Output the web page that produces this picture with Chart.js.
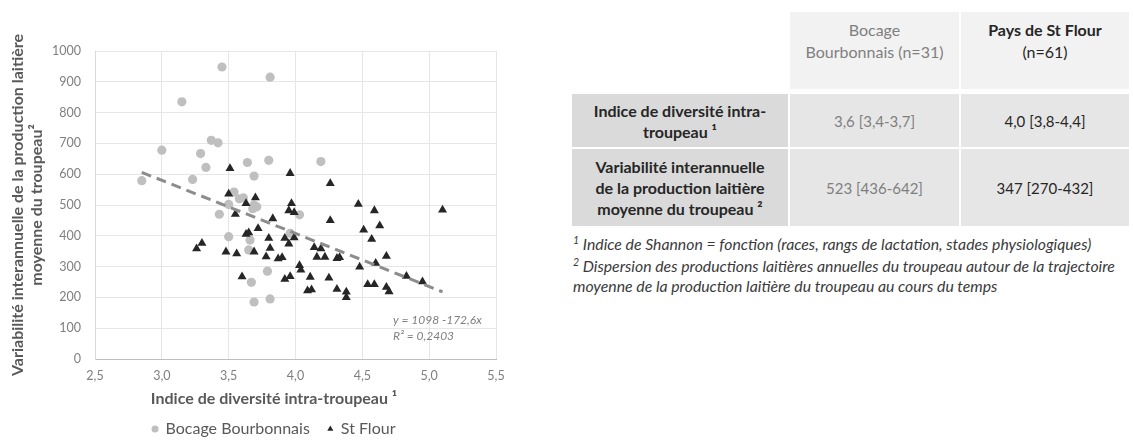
<!DOCTYPE html>
<html lang="fr">
<head>
<meta charset="utf-8">
<title>Diversité intra-troupeau et variabilité laitière</title>
<script src="https://cdn.jsdelivr.net/npm/chart.js@4.4.1/dist/chart.umd.min.js"></script>
<style>
  html, body { margin: 0; padding: 0; background: #fff; }
  body { width: 1133px; height: 441px; position: relative; overflow: hidden; font-family: Lato, "Open Sans", sans-serif; }
  #zoneGraphique { position: absolute; left: 0; top: 0; width: 548px; height: 441px; }
  #tableau { position: absolute; left: 570px; top: 10px; border-collapse: separate; border-spacing: 2px; color: #262626; }
  #tableau td, #tableau th { text-align: center; padding: 0; background-clip: padding-box; }
  #tableau th { font-size: 16px; font-weight: bold; line-height: 21px; background: #dadada; width: 216px; }
  #tableau td { font-size: 15px; line-height: 22px; background: #e6e6e6; }
  #tableau tr.entete td { vertical-align: top; padding-top: 7px; box-sizing: border-box; background: #f2f2f2; border-bottom: 3px solid #fff; height: 80px; font-size: 16px; }
  #tableau tr.entete td.vide { background: #fff; }
  #tableau .bocage { color: #7f7f7f; width: 169px; }
  #tableau .flour { color: #262626; width: 168px; }
  #tableau tr.ligne2 th, #tableau tr.ligne2 td { height: 53px; }
  #tableau tr.ligne3 th, #tableau tr.ligne3 td { height: 77px; }
  #notes { position: absolute; left: 573px; top: 231px; font-size: 15.8px; font-style: italic; line-height: 19px; color: #3a3a3a; white-space: nowrap; }
  #notes sup { font-size: 10.5px; }
</style>
</head>
<body>
<div id="zoneGraphique"><canvas id="graphiqueDispersion"></canvas></div>

<table id="tableau">
  <tr class="entete">
    <td class="vide"></td>
    <td class="bocage">Bocage<br>Bourbonnais (n=31)</td>
    <td class="flour"><b>Pays de St Flour</b><br>(n=61)</td>
  </tr>
  <tr class="ligne2">
    <th>Indice de diversité intra-<br>troupeau ¹</th>
    <td class="bocage">3,6 [3,4-3,7]</td>
    <td class="flour">4,0 [3,8-4,4]</td>
  </tr>
  <tr class="ligne3">
    <th>Variabilité interannuelle<br>de la production laitière<br>moyenne du troupeau ²</th>
    <td class="bocage">523 [436-642]</td>
    <td class="flour">347 [270-432]</td>
  </tr>
</table>

<div id="notes">
  <sup>1</sup> Indice de Shannon = fonction (races, rangs de lactation, stades physiologiques)<br>
  <sup>2</sup>&nbsp;Dispersion des productions laitières annuelles du troupeau autour de la trajectoire<br>
  moyenne de la production laitière du troupeau au cours du temps
</div>

<script>
// Données
const bocageIndice = [2.85, 3.00, 3.15, 3.45, 3.81, 3.29, 3.37, 3.42, 3.33, 3.23, 3.64, 3.80, 3.69, 3.54, 3.50, 3.61,
    3.69, 3.71, 3.68, 3.43, 3.50, 3.66, 3.65, 3.79, 3.67, 3.69, 3.81, 4.19, 4.03, 3.96, 3.58];
const bocageVariabilite = [579, 678, 835, 948, 915, 667, 710, 702, 622, 583, 638, 645, 594, 542, 502, 523,
    500, 494, 488, 470, 397, 386, 354, 285, 249, 185, 195, 641, 468, 408, 520];

const stFlourIndice = [3.26, 3.30, 3.48, 3.56, 3.51, 3.50, 3.55, 3.63, 3.70, 3.63, 3.65, 3.72, 3.60, 3.69, 3.78, 3.80,
    3.81, 3.83, 3.87, 3.90, 3.92, 3.95, 3.99, 3.92, 3.96, 3.96, 3.97, 3.95, 3.99, 4.03, 4.04, 4.11,
    4.09, 4.12, 4.14, 4.19, 4.16, 4.22, 4.25, 4.26, 4.26, 4.31, 4.33, 4.31, 4.38, 4.38, 4.47, 4.59,
    5.10, 4.63, 4.51, 4.57, 4.68, 4.48, 4.60, 4.83, 4.95, 4.54, 4.59, 4.68, 4.70];
const stFlourVariabilite = [358, 376, 348, 342, 619, 536, 470, 505, 524, 405, 410, 424, 267, 348, 332, 392,
    360, 456, 326, 330, 392, 374, 394, 259, 268, 603, 505, 482, 476, 304, 289, 266,
    222, 225, 362, 358, 331, 331, 263, 570, 450, 327, 330, 227, 218, 200, 503, 482,
    484, 433, 419, 389, 334, 299, 311, 269, 251, 242, 242, 233, 219];

// Courbe de tendance (extrémités)
const tendanceIndice = [2.85, 5.10];
const tendanceVariabilite = [606, 218];
const equationTendance = ['y = 1098 -172,6x', 'R² = 0,2403'];

const graduationsX = ['2,5', '3,0', '3,5', '4,0', '4,5', '5,0', '5,5'];
const graduationsY = ['0', '100', '200', '300', '400', '500', '600', '700', '800', '900', '1000'];

function versPoints(xs, ys) {
    return xs.map((x, i) => ({ x: x, y: ys[i] }));
}

// Texte de l'équation de la tendance
const etiquetteTendance = {
    id: 'etiquetteTendance',
    afterDatasetsDraw(chart) {
        const { ctx, chartArea } = chart;
        ctx.save();
        ctx.font = 'italic 12px Lato';
        ctx.fillStyle = '#7f7f7f';
        ctx.textBaseline = 'middle';
        ctx.fillText(equationTendance[0], chartArea.left + 298, chartArea.bottom - 39);
        ctx.fillText(equationTendance[1], chartArea.left + 298, chartArea.bottom - 23);
        ctx.restore();
    }
};

Chart.defaults.font.family = 'Lato';

const ctx = document.getElementById('graphiqueDispersion').getContext('2d');
new Chart(ctx, {
    type: 'scatter',
    data: {
        datasets: [
            {
                label: 'Bocage Bourbonnais',
                data: versPoints(bocageIndice, bocageVariabilite),
                pointStyle: 'circle',
                pointRadius: 4.6,
                backgroundColor: '#bfbfbf',
                borderColor: '#bfbfbf',
                borderWidth: 0,
                order: 2
            },
            {
                label: 'St Flour',
                data: versPoints(stFlourIndice, stFlourVariabilite),
                pointStyle: 'triangle',
                pointRadius: 5.2,
                backgroundColor: '#262626',
                borderColor: '#262626',
                borderWidth: 0,
                order: 1
            },
            {
                type: 'line',
                label: 'Tendance',
                data: versPoints(tendanceIndice, tendanceVariabilite),
                borderColor: '#8c8c8c',
                borderWidth: 3,
                borderDash: [10, 6],
                pointRadius: 0,
                fill: false,
                order: 0
            }
        ]
    },
    options: {
        responsive: true,
        maintainAspectRatio: false,
        animation: false,
        layout: {
            padding: { top: 51, left: 0, right: 0, bottom: -6 }
        },
        plugins: {
            tooltip: { enabled: false },
            title: {
                display: true,
                position: 'bottom',
                weight: 500,
                text: 'Indice de diversité intra-troupeau ¹',
                color: '#595959',
                font: { size: 16, weight: 'bold', lineHeight: 1.2 },
                padding: { top: 7.4, bottom: 2.4 }
            },
            legend: {
                position: 'bottom',
                labels: {
                    usePointStyle: true,
                    boxWidth: 5,
                    boxHeight: 5,
                    padding: 10,
                    color: '#595959',
                    font: { size: 16 },
                    generateLabels(chart) {
                        const items = Chart.defaults.plugins.legend.labels.generateLabels(chart);
                        return items
                            .filter(item => item.datasetIndex !== 2)
                            .sort((a, b) => a.datasetIndex - b.datasetIndex)
                            .map(item => item.datasetIndex === 0 ? { ...item, text: item.text + '\u2002' } : item);
                    }
                }
            }
        },
        scales: {
            x: {
                type: 'linear',
                min: 2.5,
                max: 5.5,
                ticks: {
                    stepSize: 0.5,
                    padding: 9,
                    color: '#7f7f7f',
                    font: { size: 12.5 },
                    callback: (value, index) => graduationsX[index]
                },
                grid: { color: '#e6e6e6', drawTicks: false },
                border: { color: '#bfbfbf', width: 1 },
                afterFit(scale) { scale.height = 23; }
            },
            y: {
                type: 'linear',
                min: 0,
                max: 1000,
                ticks: {
                    stepSize: 100,
                    padding: 14,
                    color: '#7f7f7f',
                    font: { size: 12.5 },
                    callback: (value, index) => graduationsY[index]
                },
                grid: { color: '#e6e6e6', drawTicks: false },
                border: { color: '#d9d9d9' },
                title: {
                    display: true,
                    text: ['Variabilité interannuelle de la production laitière', 'moyenne du troupeau²'],
                    color: '#595959',
                    font: { size: 16, weight: 'bold', lineHeight: 1.19 },
                    padding: { top: 8.5, bottom: 0 }
                },
                afterFit(scale) { scale.width = 95; }
            },
            marge: {
                type: 'linear',
                position: 'right',
                display: true,
                grid: { display: false, drawTicks: false },
                border: { display: false },
                ticks: { display: false },
                afterFit(scale) { scale.width = 52; }
            }
        }
    },
    plugins: [etiquetteTendance]
});
</script>
</body>
</html>
